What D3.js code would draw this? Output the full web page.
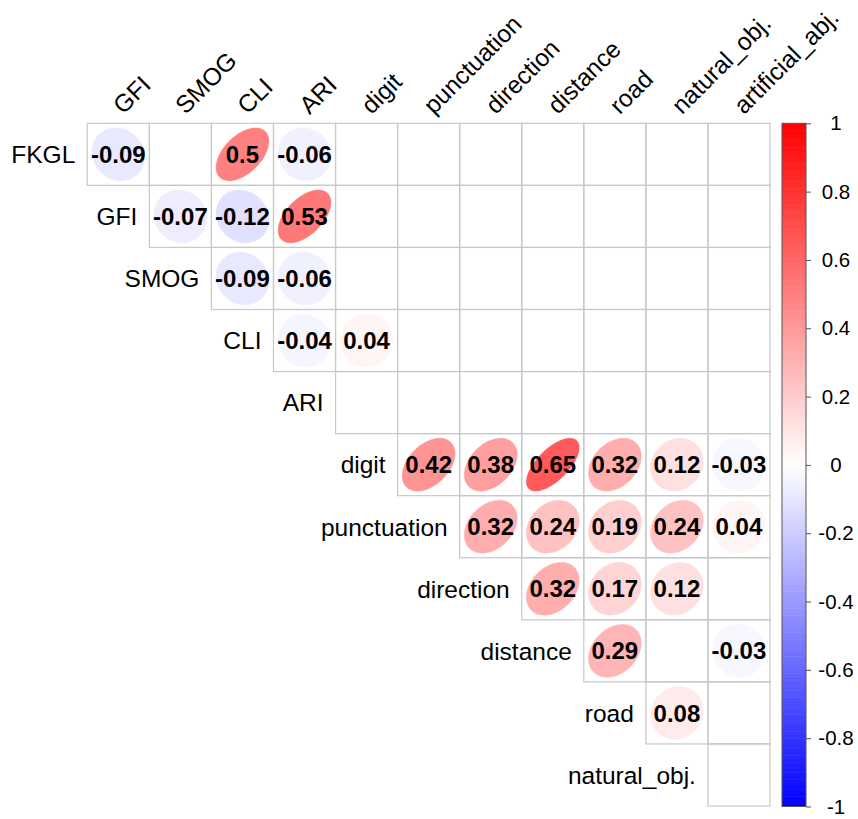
<!DOCTYPE html>
<html>
<head>
<meta charset="utf-8">
<script src="https://cdn.jsdelivr.net/npm/d3@7"></script>
<style>
  html, body { margin: 0; padding: 0; background: #ffffff; }
  svg { display: block; font-family: "Liberation Sans", Arial, sans-serif; }
</style>
</head>
<body>
<svg id="chart" width="858" height="819"></svg>
<script>
// Variable names along the top (columns) and down the left (rows)
const colLabels = ["GFI", "SMOG", "CLI", "ARI", "digit", "punctuation", "direction",
                   "distance", "road", "natural_obj.", "artificial_abj."];
const rowLabels = ["FKGL", "GFI", "SMOG", "CLI", "ARI", "digit", "punctuation",
                   "direction", "distance", "road", "natural_obj."];

// Correlations per row, starting at the row's own diagonal column; null = not significant
const rowFKGL        = [-0.09, null, 0.50, -0.06, null, null, null, null, null, null, null];
const rowGFI         = [-0.07, -0.12, 0.53, null, null, null, null, null, null, null];
const rowSMOG        = [-0.09, -0.06, null, null, null, null, null, null, null];
const rowCLI         = [-0.04, 0.04, null, null, null, null, null, null];
const rowARI         = [null, null, null, null, null, null, null];
const rowDigit       = [0.42, 0.38, 0.65, 0.32, 0.12, -0.03];
const rowPunctuation = [0.32, 0.24, 0.19, 0.24, 0.04];
const rowDirection   = [0.32, 0.17, 0.12, null];
const rowDistance    = [0.29, null, -0.03];
const rowRoad        = [0.08, null];
const rowNatural     = [null];
const rows = [rowFKGL, rowGFI, rowSMOG, rowCLI, rowARI, rowDigit, rowPunctuation,
              rowDirection, rowDistance, rowRoad, rowNatural];

// Colour legend ticks
const legendTicks = [1, 0.8, 0.6, 0.4, 0.2, 0, -0.2, -0.4, -0.6, -0.8, -1];

const svg = d3.select("#chart");
const gridLeft = 87.3, gridTop = 123.3, gridSize = 682.7;

const x = d3.scaleBand().domain(d3.range(colLabels.length)).range([gridLeft, gridLeft + gridSize]);
const y = d3.scaleBand().domain(d3.range(rowLabels.length)).range([gridTop, gridTop + gridSize]);
const cell = x.bandwidth();

const color = d3.scaleLinear().domain([-1, 0, 1]).range(["#0000FF", "#FFFFFF", "#FF0000"])
  .interpolate(d3.interpolateRgb);

// Flatten into cells
const cells = [];
rows.forEach((vals, r) => {
  vals.forEach((v, k) => cells.push({ r, c: r + k, v }));
});

// Grid cells
svg.append("g").selectAll("rect").data(cells).join("rect")
  .attr("x", d => x(d.c)).attr("y", d => y(d.r))
  .attr("width", cell).attr("height", cell)
  .attr("fill", "none").attr("stroke", "#c8c8c8").attr("stroke-width", 1.2);

// Ellipse outline for a correlation, in cell units
function ellipsePoints(rho) {
  const a = Math.acos(rho);
  return d3.range(0, 100).map(i => {
    const k = (2 * Math.PI * i) / 99;
    return [0.85 * Math.cos(k + a / 2) / 2, 0.85 * Math.cos(k - a / 2) / 2];
  });
}

const sig = cells.filter(d => d.v !== null);
const ellG = svg.append("g");
sig.forEach(d => {
  const cx = x(d.c) + cell / 2, cy = y(d.r) + cell / 2;
  const line = d3.line().x(p => cx + p[0] * cell).y(p => cy - p[1] * cell);
  ellG.append("path").attr("d", line(ellipsePoints(d.v)) + "Z")
    .attr("fill", color(d.v)).attr("stroke", color(d.v)).attr("stroke-width", 0.5);
});

// Coefficient labels
svg.append("g").selectAll("text").data(sig).join("text")
  .attr("x", d => x(d.c) + cell / 2).attr("y", d => y(d.r) + cell / 2)
  .attr("dy", "0.36em").attr("text-anchor", "middle")
  .attr("font-size", 24).attr("font-weight", "bold").attr("fill", "#000")
  .text(d => d3.format(".2~f")(d.v).replace("−", "-"));

// Row labels, right-aligned against each row's first cell
svg.append("g").selectAll("text").data(rowLabels).join("text")
  .attr("x", (d, i) => x(i) - 12).attr("y", (d, i) => y(i) + cell / 2)
  .attr("dy", "0.36em").attr("text-anchor", "end")
  .attr("font-size", 24.5).attr("fill", "#000").text(d => d);

// Column labels, rotated 45 degrees
svg.append("g").selectAll("text").data(colLabels).join("text")
  .attr("transform", (d, i) => `translate(${x(i) + cell / 2 + 5},${gridTop - 8}) rotate(-45)`)
  .attr("font-size", 24.5).attr("fill", "#000").text(d => d);

// Colour bar
const barX = 782, barW = 24;
const ly = d3.scaleLinear().domain([-1, 1]).range([gridTop + gridSize + 0.5, gridTop]);
const nSteps = 200;
const steps = d3.range(nSteps).map(i => -1 + (2 * (i + 0.5)) / nSteps);
svg.append("g").selectAll("rect").data(steps).join("rect")
  .attr("x", barX).attr("width", barW)
  .attr("y", v => ly(v + 1 / nSteps)).attr("height", v => ly(v - 1 / nSteps) - ly(v + 1 / nSteps) + 0.5)
  .attr("fill", v => color(v));
svg.append("rect").attr("x", barX).attr("y", ly(1)).attr("width", barW)
  .attr("height", ly(-1) - ly(1)).attr("fill", "none").attr("stroke", "#555").attr("stroke-width", 1);

const axis = d3.axisRight(ly).tickValues(legendTicks).tickSize(5).tickFormat(d3.format("~g"));
const ax = svg.append("g").attr("transform", `translate(${barX + barW},0)`).call(axis);
ax.select(".domain").remove();
ax.selectAll(".tick line").attr("stroke", "#555");
ax.selectAll(".tick text").attr("x", 30).attr("text-anchor", "middle")
  .attr("font-size", 20.5).attr("font-family", "Liberation Sans, Arial, sans-serif").attr("fill", "#000")
  .text(d => d3.format("~g")(d).replace("−", "-"));
</script>
</body>
</html>
